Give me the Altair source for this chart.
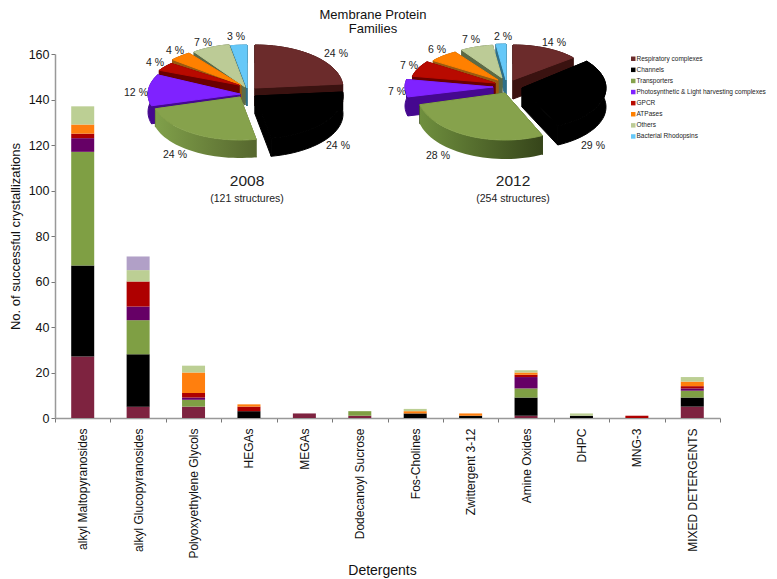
import math
import altair as alt
import pandas as pd

# ---- data ----
detergents = ["alkyl Maltopyranosides", "alkyl Glucopyranosides", "Polyoxyethylene Glycols", "HEGAs", "MEGAs",
              "Dodecanoyl Sucrose", "Fos-Cholines", "Zwittergent 3-12", "Amine Oxides", "DHPC", "MNG-3",
              "MIXED DETERGENTS"]
families = ["Respiratory complexes", "Channels", "Transporters", "Photosynthetic & Light harvesting complexes",
            "GPCR", "ATPases", "Others", "Bacterial Rhodopsins"]
resp = [27, 5, 5, 0, 2, 1, 0, 0, 1, 0, 0, 5]
chan = [40, 23, 0, 3, 0, 0, 2, 1, 8, 1, 0, 4]
tran = [50, 15, 3, 0, 0, 2, 0, 0, 4, 0, 0, 3]
phot = [6, 6, 1, 0, 0, 0, 0, 0, 5, 0, 0, 1]
gpcr = [2, 11, 2, 2, 0, 0, 0, 0, 1, 0, 1, 1]
atpa = [4, 0, 9, 1, 0, 0, 1, 1, 1, 0, 0, 2]
othr = [8, 5, 3, 0, 0, 0, 1, 0, 1, 1, 0, 2]
rhod = [0, 6, 0, 0, 0, 0, 0, 0, 0, 0, 0, 0]
series = [resp, chan, tran, phot, gpcr, atpa, othr, rhod]
pct_2008 = [24, 24, 24, 12, 4, 4, 7, 3]
pct_2012 = [14, 29, 28, 7, 7, 6, 7, 2]

# ---- styles ----
FONT = "Liberation Sans"
bar_colors = ["#7e2340", "#000000", "#7f9f44", "#660066", "#ae0000", "#ff7f0e", "#bccf94", "#b1a0c7"]
top_colors = ["#6b2b2b", "#000000", "#86a24c", "#7f22ff", "#b80a00", "#ff8000", "#bccb96", "#66c8f8"]
wall_colors = ["#3a1210", "#000000", None, "#45088f", "#6a0000", "#9a5a10", "#5c6a46", "#2f6f88"]
# slice geometry in page pixels: apex x, apex y, x radius, y radius
geom_2008 = [(255, 88, 88, 43), (255, 96, 88, 43), (240, 97, 88, 43), (240, 94, 92, 43),
             (239, 85, 89, 33), (241, 85, 90, 39), (245, 87, 88, 43), (247, 88, 88, 43)]
geom_2012 = [(513, 80, 78, 35), (522, 88, 84, 42), (505, 93, 88, 47), (493, 87, 88, 40),
             (495, 83, 84, 36), (498, 80, 80, 33), (502, 78, 75, 33), (506, 80, 80, 36)]
green_walls = {2008: ("#80a04a", "#56672e"), 2012: ("#6f8f3e", "#36451a")}
depths = {2008: 18, 2012: 19}
draw_order = [7, 6, 5, 4, 3, 0, 2, 1]
label_pos_2008 = [(336, 54), (338, 146), (175, 155), (136, 93), (155, 63), (175, 51), (203, 43), (236, 37)]
label_pos_2012 = [(554, 43), (593, 146), (438, 156), (397, 92), (409, 66), (437, 50), (471, 40), (503, 37)]

X0, X1, Y0, Y1 = 55, 720, 418, 54
W, H = X1 - X0, Y0 - Y1

px = alt.Scale(domain=[X0, X1], nice=False, zero=False)
py = alt.Scale(domain=[Y0, Y1], nice=False, zero=False)


def arc_pts(g, a0, a1, dy=0):
    ax, ay, rx, ry = g
    n = max(3, int((a1 - a0) / 3))
    return [(ax + rx * math.sin(math.radians(a0 + (a1 - a0) * k / n)),
             ay - ry * math.cos(math.radians(a0 + (a1 - a0) * k / n)) + dy) for k in range(n + 1)]


def poly_layer(pts, fill, stroke):
    pts = pts + pts[:1]
    df = pd.DataFrame({"x": [p[0] for p in pts], "y": [p[1] for p in pts], "i": range(len(pts))})
    return alt.Chart(df).mark_line(fill=fill, stroke=stroke, strokeWidth=1, interpolate="linear").encode(
        x=alt.X("x:Q", scale=px, axis=None),
        y=alt.Y("y:Q", scale=py, axis=None),
        order=alt.Order("i:Q"),
    )


wall_layers, top_rows = [], []
for year, pct, geom in [(2008, pct_2008, geom_2008), (2012, pct_2012, geom_2012)]:
    total = sum(pct)
    angles = [0]
    for v in pct:
        angles.append(angles[-1] + v * 360 / total)
    d = depths[year]
    for s in draw_order:
        a0, a1, g = angles[s], angles[s + 1], geom[s]
        arc = arc_pts(g, a0, a1)
        low = arc_pts(g, a0, a1, d)
        apex = (g[0], g[1])
        apex_low = (g[0], g[1] + d)
        flat = wall_colors[s]
        fill = flat
        if flat is None:
            c0, c1 = green_walls[year]
            flat = c1
            fill = alt.LinearGradient(gradient="linear", x1=0, x2=1, y1=0, y2=0,
                                      stops=[alt.GradientStop(color=c0, offset=0),
                                             alt.GradientStop(color=c1, offset=1)])
        # extruded radial faces and outer wall
        wall_layers.append(poly_layer([apex, arc[0], low[0], apex_low], flat, flat))
        wall_layers.append(poly_layer([apex, arc[-1], low[-1], apex_low], flat, flat))
        wall_layers.append(poly_layer(arc + low[::-1], fill, flat if wall_colors[s] else "transparent"))
        for i, p in enumerate([apex] + arc + [apex]):
            top_rows.append({"x": p[0], "y": p[1], "i": i, "piece": f"{year}-{s}", "family": families[s]})

tops = alt.Chart(pd.DataFrame(top_rows)).mark_line(strokeWidth=1).encode(
    x=alt.X("x:Q", scale=px, axis=None),
    y=alt.Y("y:Q", scale=py, axis=None),
    order=alt.Order("i:Q"),
    detail="piece:N",
    stroke=alt.Stroke("family:N", scale=alt.Scale(domain=families, range=top_colors), legend=None),
    fill=alt.Fill("family:N", scale=alt.Scale(domain=families, range=top_colors), title=None,
                  legend=alt.Legend(orient="none", legendX=575, legendY=1.5, symbolType="square", symbolSize=20,
                                    symbolStrokeWidth=0, labelFontSize=6.5, labelFont=FONT, labelColor="#222222",
                                    labelLimit=200, labelOffset=0, rowPadding=4.1, symbolOpacity=1,
                                    values=families)),
)

# ---- stacked bars ----
bar_rows = []
for d_i, det in enumerate(detergents):
    for f_i, fam in enumerate(families):
        if series[f_i][d_i] > 0:
            bar_rows.append({"detergent": det, "family": fam, "count": series[f_i][d_i], "stack": f_i})

bars = alt.Chart(pd.DataFrame(bar_rows)).mark_bar(size=23).encode(
    x=alt.X("detergent:N", sort=detergents, title="Detergents",
            scale=alt.Scale(paddingInner=0, paddingOuter=0),
            axis=alt.Axis(labelAngle=-90, labelFontSize=12, labelFont=FONT, labelColor="#111111", labelLimit=200,
                          labelPadding=6, titleFontSize=14, titleFont=FONT, titleFontWeight="normal",
                          titleColor="#111111", titlePadding=5, titleX=327, domainColor="#999999", domainWidth=1.5,
                          tickColor="#777777", tickSize=4, tickBand="extent", grid=False)),
    y=alt.Y("count:Q", stack="zero", title="No. of successful crystallizations",
            scale=alt.Scale(domain=[0, 160], nice=False),
            axis=alt.Axis(values=list(range(0, 161, 20)), labelFontSize=12.5, labelFont=FONT, labelColor="#111111",
                          titleFontSize=13, titleFont=FONT, titleFontWeight="normal", titleColor="#111111",
                          titlePadding=6, domainColor="#999999", domainWidth=1.5, tickColor="#777777",
                          tickSize=4, grid=False)),
    color=alt.Color("family:N", scale=alt.Scale(domain=families, range=bar_colors), legend=None),
    order=alt.Order("stack:Q"),
)


# ---- pie captions ----
def text_layer(rows, size):
    df = pd.DataFrame(rows, columns=["x", "y", "t"])
    return alt.Chart(df).mark_text(font=FONT, fontSize=size, color="#222222", align="center",
                                   baseline="middle").encode(
        x=alt.X("x:Q", scale=px, axis=None),
        y=alt.Y("y:Q", scale=py, axis=None),
        text="t:N",
    )


pct_rows = [(p[0], p[1], f"{v} %") for p, v in zip(label_pos_2008, pct_2008)] + \
           [(p[0], p[1], f"{v} %") for p, v in zip(label_pos_2012, pct_2012)]
captions = [
    text_layer(pct_rows, 10.5),
    text_layer([(247, 181, "2008"), (513, 181, "2012")], 15.5),
    text_layer([(247, 199, "(121 structures)"), (513, 199, "(254 structures)")], 10.5),
]

pies = alt.layer(*wall_layers, tops, *captions)

chart = alt.layer(bars, pies).resolve_scale(x="independent", y="independent", color="independent").properties(
    width=W, height=H,
    padding={"left": X0 - 8, "top": Y1 - 8, "right": 761 - (X1 - 8), "bottom": 570 - (Y0 - 8)},
    autosize=alt.AutoSizeParams(type="none"),
    title=alt.TitleParams(text=["Membrane Protein", "Families"], font=FONT, fontSize=13, fontWeight="normal",
                          color="#111111", anchor="middle", dx=-14.5, offset=-4, lineHeight=14),
).configure_view(stroke=None)

chart.save("out.html", embed_options={"renderer": "svg", "actions": False})
